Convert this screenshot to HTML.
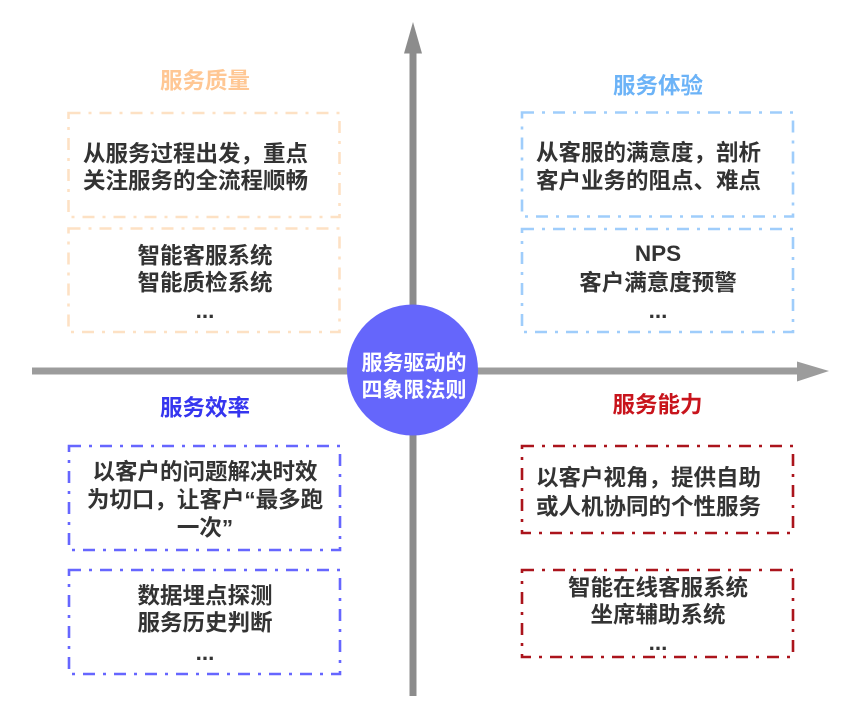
<!DOCTYPE html>
<html>
<head>
<meta charset="utf-8">
<style>
  html,body{margin:0;padding:0;background:#fff;}
  svg{display:block;}
  text{font-family:"Liberation Sans","Noto Sans CJK SC",sans-serif;font-weight:bold;}
  .t{font-size:22.5px;fill:#333;}
  .h{font-size:22.5px;}
  .c{font-size:21px;fill:#fff;}
</style>
</head>
<body>
<svg width="850" height="728" viewBox="0 0 850 728" xmlns="http://www.w3.org/2000/svg">
  <!-- axes -->
  <rect x="32" y="367.5" width="768" height="7" fill="#9c9c9c"/>
  <polygon points="797,361.5 829,371 797,381.5" fill="#9c9c9c"/>
  <rect x="409.5" y="50" width="7" height="646" fill="#8c8c8c"/>
  <polygon points="404,53.5 413,22 422,53.5" fill="#8c8c8c"/>

  <!-- center circle -->
  <circle cx="412.5" cy="370" r="65.5" fill="#6566fb"/>
  <text class="c" x="414" y="370" text-anchor="middle">服务驱动的</text>
  <text class="c" x="414" y="397" text-anchor="middle">四象限法则</text>

  <g fill="none" stroke-width="2.6" stroke-dasharray="12 8 3 8">
    <rect x="68.5" y="113" width="271" height="104" stroke="#fde1c4"/>
    <rect x="68.5" y="228.5" width="271" height="103.5" stroke="#fde1c4"/>
    <rect x="522" y="112.5" width="271" height="104" stroke="#9fcdfb"/>
    <rect x="522" y="229" width="271" height="103" stroke="#9fcdfb"/>
    <rect x="69" y="446" width="271" height="104" stroke="#6666ff"/>
    <rect x="69" y="570" width="271" height="104" stroke="#6666ff"/>
    <rect x="522" y="446" width="271" height="87" stroke="#ab141c"/>
    <rect x="522" y="570" width="271" height="87" stroke="#ab141c"/>
  </g>

  <!-- top-left -->
  <text class="h" x="205" y="88.5" text-anchor="middle" fill="#ffc794">服务质量</text>
  <text class="t" x="83" y="161.5">从服务过程出发，重点</text>
  <text class="t" x="83" y="188.5">关注服务的全流程顺畅</text>
  <text class="t" x="205" y="263.5" text-anchor="middle">智能客服系统</text>
  <text class="t" x="205" y="290.5" text-anchor="middle">智能质检系统</text>
  <text class="t" x="205" y="318" text-anchor="middle">...</text>

  <!-- top-right -->
  <text class="h" x="658" y="93.5" text-anchor="middle" fill="#6cb3f7">服务体验</text>
  <text class="t" x="536" y="160.5">从客服的满意度，剖析</text>
  <text class="t" x="536" y="188.5">客户业务的阻点、难点</text>
  <text class="t" x="658" y="261" text-anchor="middle">NPS</text>
  <text class="t" x="658" y="290.5" text-anchor="middle">客户满意度预警</text>
  <text class="t" x="658" y="318" text-anchor="middle">...</text>

  <!-- bottom-left -->
  <text class="h" x="205" y="415.5" text-anchor="middle" fill="#3535ef">服务效率</text>
  <text class="t" x="205" y="479.5" text-anchor="middle">以客户的问题解决时效</text>
  <text class="t" x="205" y="507.5" text-anchor="middle">为切口，让客户“最多跑</text>
  <text class="t" x="205" y="535.5" text-anchor="middle">一次”</text>
  <text class="t" x="205" y="603.5" text-anchor="middle">数据埋点探测</text>
  <text class="t" x="205" y="630.5" text-anchor="middle">服务历史判断</text>
  <text class="t" x="205" y="660" text-anchor="middle">...</text>

  <!-- bottom-right -->
  <text class="h" x="657.5" y="412.5" text-anchor="middle" fill="#c8141c">服务能力</text>
  <text class="t" x="536" y="485.5">以客户视角，提供自助</text>
  <text class="t" x="536" y="514.5">或人机协同的个性服务</text>
  <text class="t" x="658" y="595.5" text-anchor="middle">智能在线客服系统</text>
  <text class="t" x="658" y="622.5" text-anchor="middle">坐席辅助系统</text>
  <text class="t" x="658" y="650" text-anchor="middle">...</text>
</svg>
</body>
</html>
